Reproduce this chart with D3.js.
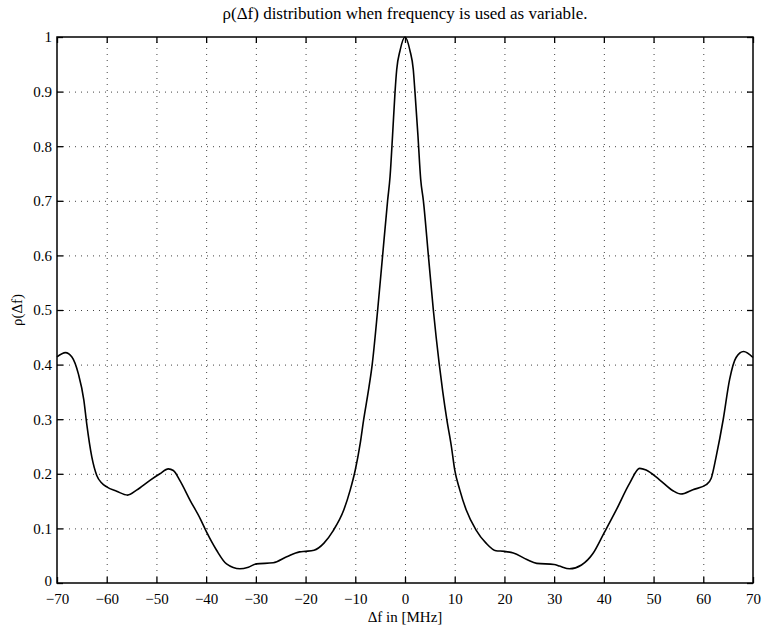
<!DOCTYPE html>
<html>
<head>
<meta charset="utf-8">
<script src="https://cdn.jsdelivr.net/npm/d3@7"></script>
<style>
  body { margin: 0; background: #fff; }
  svg { display: block; }
  svg text { font-family: "Liberation Serif", "Times New Roman", serif; fill: #000; }
  .grid line { stroke: #444; stroke-width: 1; stroke-dasharray: 1,5; }
  .grid path { display: none; }
  .axis path { display: none; }
  .axis line { stroke: #000; stroke-width: 1.3; }
</style>
</head>
<body>
<div id="chart"></div>
<script>
window.onload = () => {
  // frequency offset (MHz)
  var dfValues = [
    -70, -68.3, -67, -65.7, -64.6, -64, -63, -62, -61, -60,
    -58, -55.8, -54, -51.3, -49.3, -47.6, -46.6, -45.3, -43.2, -41.2,
    -39.9, -37.9, -35.9, -33.2, -31.5, -29.9, -26.5, -23.8, -21.2, -20,
    -18.3, -16.3, -14.5, -12.3, -11, -10, -9, -8.3, -7.4, -6.6,
    -5.5, -4.5, -3.5, -3, -2.5, -2, -1.67, -1, 0,
    1, 1.67, 2, 2.6, 3.15, 3.7, 4.7, 5.7, 6.9, 7.6,
    8.4, 9.33, 10, 11, 12.3, 14.3, 16.3, 18.3, 20, 21.8, 24.5,
    26.5, 30, 31.1, 33.1, 35.5, 37.8, 40, 42.5, 45.2, 47.2,
    48.5, 51.2, 53.9, 55.5, 57.9, 60.6, 61.6, 62.6, 64, 65.3,
    66.6, 68.1, 70
  ];
  // correlation rho(df)
  var rhoValues = [
    0.414, 0.422, 0.414, 0.383, 0.335, 0.290, 0.231, 0.197, 0.183, 0.176,
    0.168, 0.161, 0.170, 0.188, 0.200, 0.209, 0.206, 0.188, 0.151, 0.118,
    0.093, 0.060, 0.035, 0.026, 0.029, 0.035, 0.037, 0.048, 0.057, 0.058,
    0.060, 0.073, 0.095, 0.134, 0.171, 0.207, 0.256, 0.300, 0.350, 0.400,
    0.500, 0.600, 0.700, 0.745, 0.820, 0.900, 0.940, 0.975, 1.0,
    0.975, 0.940, 0.900, 0.820, 0.740, 0.700, 0.600, 0.500, 0.400, 0.350,
    0.300, 0.250, 0.207, 0.171, 0.134, 0.097, 0.073, 0.059, 0.058, 0.055, 0.043,
    0.036, 0.034, 0.031, 0.026, 0.033, 0.054, 0.091, 0.134, 0.183, 0.210,
    0.207, 0.189, 0.169, 0.163, 0.171, 0.180, 0.192, 0.232, 0.299, 0.373,
    0.413, 0.424, 0.413
  ];
  var xTicks = [-70, -60, -50, -40, -30, -20, -10, 0, 10, 20, 30, 40, 50, 60, 70];
  var yTicks = [0, 0.1, 0.2, 0.3, 0.4, 0.5, 0.6, 0.7, 0.8, 0.9, 1];

  var W = 762, H = 627;
  var margin = { top: 37, right: 9, bottom: 44, left: 57 },
    width = W - margin.left - margin.right,
    height = H - margin.top - margin.bottom;
  var serif = "Liberation Serif, Times New Roman, serif";

  var x = d3.scaleLinear().domain([-70, 70]).range([0, width]);
  var y = d3.scaleLinear().domain([0, 1]).range([height, 0]);

  var svg = d3.select("#chart").append("svg")
    .attr("width", W)
    .attr("height", H);
  var g = svg.append("g")
    .attr("transform", "translate(" + margin.left + "," + margin.top + ")");

  // dotted grid
  g.append("g")
    .attr("class", "grid")
    .attr("transform", "translate(0," + height + ")")
    .call(d3.axisBottom(x).tickValues(xTicks.slice(1, -1)).tickSize(-height).tickFormat(""));
  g.append("g")
    .attr("class", "grid")
    .call(d3.axisLeft(y).tickValues(yTicks.slice(1, -1)).tickSize(-width).tickFormat(""));

  var fmt = d => d === 0 || d === 1 ? String(d) : d3.format(".1f")(d);

  // axes, ticks pointing in
  g.append("g")
    .attr("class", "axis")
    .attr("transform", "translate(0," + height + ")")
    .call(d3.axisBottom(x).tickValues(xTicks).tickSizeInner(-6).tickSizeOuter(0).tickPadding(10));
  g.append("g")
    .attr("class", "axis")
    .call(d3.axisTop(x).tickValues(xTicks).tickSizeInner(-6).tickSizeOuter(0).tickFormat(""));
  var yAxis = g.append("g")
    .attr("class", "axis")
    .call(d3.axisLeft(y).tickValues(yTicks).tickSizeInner(-6).tickSizeOuter(0).tickPadding(5).tickFormat(fmt));
  // the "0" sits a touch above the corner so it clears "-70"
  yAxis.selectAll(".tick text").filter(d => d === 0).attr("y", -2);
  g.append("g")
    .attr("class", "axis")
    .attr("transform", "translate(" + width + ",0)")
    .call(d3.axisRight(y).tickValues(yTicks).tickSizeInner(-6).tickSizeOuter(0).tickFormat(""));

  g.selectAll(".axis")
    .attr("font-family", serif)
    .attr("font-size", 15);

  // frame
  g.append("rect")
    .attr("width", width)
    .attr("height", height)
    .attr("fill", "none")
    .attr("stroke", "#000")
    .attr("stroke-width", 1.5);

  var pts = dfValues.map((d, i) => [d, rhoValues[i]]);
  var line = d3.line()
    .x(d => x(d[0]))
    .y(d => y(d[1]))
    .curve(d3.curveMonotoneX);

  g.append("path")
    .datum(pts)
    .attr("fill", "none")
    .attr("stroke", "#000")
    .attr("stroke-width", 1.6)
    .attr("d", line);

  // labels
  svg.append("text")
    .attr("x", margin.left + width / 2)
    .attr("y", 19)
    .attr("text-anchor", "middle")
    .attr("font-family", serif)
    .attr("font-size", 17)
    .text("ρ(Δf) distribution when frequency is used as variable.");
  svg.append("text")
    .attr("x", margin.left + width / 2)
    .attr("y", 622)
    .attr("text-anchor", "middle")
    .attr("font-family", serif)
    .attr("font-size", 15)
    .text("Δf in [MHz]");
  svg.append("text")
    .attr("transform", "translate(22," + (margin.top + height / 2) + ") rotate(-90)")
    .attr("text-anchor", "middle")
    .attr("font-family", serif)
    .attr("font-size", 15)
    .text("ρ(Δf)");
};
</script>
</body>
</html>
